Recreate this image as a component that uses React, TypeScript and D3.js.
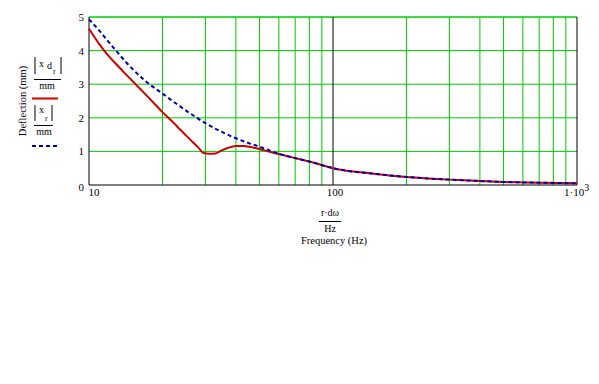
import React from "react";
import * as d3 from "d3";

const freqRed = [10, 11, 12, 13, 14, 15, 16, 18, 20, 22, 24, 26, 28, 29.5, 31, 33, 35, 37, 40, 43, 46, 50, 55, 60, 70, 80, 100, 150, 200, 300, 400, 500, 700, 1000];
const valRed = [4.65, 4.2, 3.85, 3.58, 3.33, 3.11, 2.9, 2.52, 2.17, 1.88, 1.6, 1.35, 1.12, 0.95, 0.93, 0.94, 1.03, 1.1, 1.16, 1.16, 1.13, 1.07, 0.99, 0.92, 0.8, 0.7, 0.5, 0.33, 0.24, 0.16, 0.12, 0.09, 0.07, 0.05];
const freqBlue = [10, 11, 12, 13, 14, 15, 17, 20, 23, 26, 30, 35, 40, 45, 50, 60, 70, 80, 100, 150, 200, 300, 400, 500, 700, 1000];
const valBlue = [4.93, 4.6, 4.27, 3.97, 3.7, 3.47, 3.1, 2.72, 2.4, 2.13, 1.84, 1.58, 1.39, 1.25, 1.14, 0.93, 0.8, 0.7, 0.5, 0.33, 0.24, 0.16, 0.12, 0.09, 0.07, 0.05];
const yTicks = [0, 1, 2, 3, 4, 5];
const xGrid = [20, 30, 40, 50, 60, 70, 80, 90, 200, 300, 400, 500, 600, 700, 800, 900];

const GREEN = "#00cc00";
const FONT = '"Liberation Serif", "Times New Roman", serif';

export default function App() {
  const x = d3.scaleLog().domain([10, 1000]).range([89, 577]);
  const y = d3.scaleLinear().domain([0, 5]).range([185, 17]);
  const line = d3
    .line<[number, number]>()
    .x((d) => x(d[0]))
    .y((d) => y(d[1]))
    .curve(d3.curveMonotoneX);
  const redPts = freqRed.map((f, i) => [f, valRed[i]] as [number, number]);
  const bluePts = freqBlue.map((f, i) => [f, valBlue[i]] as [number, number]);

  return (
    <svg
      width={599}
      height={384}
      style={{ position: "absolute", left: 0, top: 0, background: "#fff", fontFamily: FONT }}
    >
      {/* grid */}
      {xGrid.map((f) => (
        <line key={"gx" + f} x1={x(f)} x2={x(f)} y1={y(0)} y2={y(5)} stroke={GREEN} strokeWidth={1} />
      ))}
      {yTicks.slice(1).map((v) => (
        <line key={"gy" + v} x1={x(10)} x2={x(1000)} y1={y(v)} y2={y(v)} stroke={GREEN} strokeWidth={v === 5 ? 1.5 : 1} />
      ))}
      <line x1={x(100)} x2={x(100)} y1={y(0)} y2={y(5)} stroke="#000" strokeWidth={1} />
      {/* axes */}
      <line x1={x(10)} x2={x(10)} y1={y(0)} y2={y(5)} stroke="#000" strokeWidth={1} />
      <line x1={x(1000)} x2={x(1000)} y1={y(0)} y2={y(5)} stroke="#000" strokeWidth={1} />
      <line x1={x(10)} x2={x(1000)} y1={y(0)} y2={y(0)} stroke="#000" strokeWidth={1} />

      {/* curves */}
      <path d={line(redPts) || ""} fill="none" stroke="#d00000" strokeWidth={2} />
      <path d={line(bluePts) || ""} fill="none" stroke="#0000b0" strokeWidth={2} strokeDasharray="4,3" />

      {/* y tick labels */}
      {yTicks.map((v) => (
        <text key={"yt" + v} x={84} y={y(v) + (v === 0 ? 2 : 0)} fontSize={11} textAnchor="end" dominantBaseline="central">
          {v}
        </text>
      ))}
      {/* x tick labels */}
      <text x={x(10) + 5} y={196} fontSize={11} textAnchor="middle">10</text>
      <text x={x(100) + 2} y={196} fontSize={11} textAnchor="middle">100</text>
      <text x={564} y={196} fontSize={11}>
        1·10<tspan dy={-5} fontSize={10}>3</tspan>
      </text>

      {/* x label */}
      <text x={330} y={216} fontSize={10} textAnchor="middle">r·dω</text>
      <line x1={319} x2={341} y1={221.5} y2={221.5} stroke="#000" strokeWidth={1} />
      <text x={330} y={232} fontSize={10} textAnchor="middle">Hz</text>
      <text x={334} y={244} fontSize={10.5} textAnchor="middle">Frequency (Hz)</text>

      {/* y label */}
      <text x={0} y={0} fontSize={10.5} textAnchor="middle" transform="translate(26,101) rotate(-90)">
        Deflection (mm)
      </text>

      {/* legend */}
      <line x1={35} x2={35} y1={57} y2={74} stroke="#000" strokeWidth={1} />
      <line x1={61} x2={61} y1={57} y2={74} stroke="#000" strokeWidth={1} />
      <text x={39} y={67} fontSize={10}>x</text>
      <text x={47} y={69} fontSize={10}>d</text>
      <text x={53} y={74} fontSize={8}>r</text>
      <line x1={34} x2={61} y1={79.5} y2={79.5} stroke="#000" strokeWidth={1} />
      <text x={47} y={89} fontSize={10} textAnchor="middle">mm</text>
      <line x1={32} x2={58} y1={98.5} y2={98.5} stroke="#d00000" strokeWidth={2} />

      <line x1={35} x2={35} y1={105} y2={121} stroke="#000" strokeWidth={1} />
      <line x1={52} x2={52} y1={105} y2={121} stroke="#000" strokeWidth={1} />
      <text x={39} y={113} fontSize={10}>x</text>
      <text x={45} y={121} fontSize={8}>r</text>
      <line x1={34} x2={53} y1={125.5} y2={125.5} stroke="#000" strokeWidth={1} />
      <text x={44} y={135} fontSize={10} textAnchor="middle">mm</text>
      <line x1={32} x2={58} y1={146} y2={146} stroke="#0000b0" strokeWidth={2} strokeDasharray="4,3" />
    </svg>
  );
}
